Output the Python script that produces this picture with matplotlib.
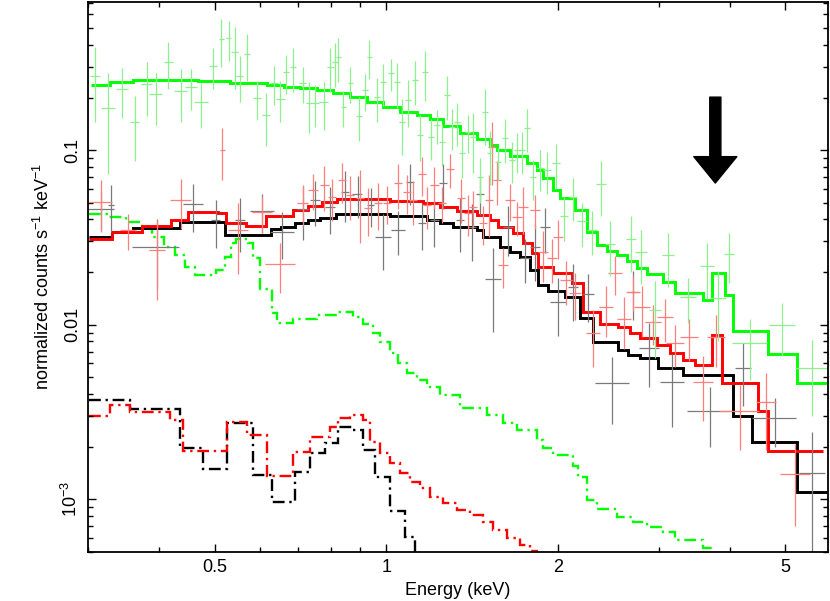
import matplotlib
matplotlib.use('Agg')
import matplotlib.pyplot as plt
from matplotlib.ticker import FixedLocator, NullFormatter

plt.rcParams['font.family'] = ['Liberation Sans', 'DejaVu Sans']
plt.rcParams['mathtext.fontset'] = 'custom'
plt.rcParams['mathtext.rm'] = 'Liberation Sans'
plt.rcParams['mathtext.default'] = 'regular'

# ---- folded models (bin edges in keV, values in counts/s/keV) ----
green_model_edges = [0.3031, 0.3285, 0.3604, 0.4667, 0.5330, 0.6187, 0.6603, 0.7070, 0.7571,
                     0.8077, 0.8650, 0.9263, 0.9880, 1.0581, 1.1331, 1.1942, 1.2584, 1.3478,
                     1.4434, 1.5212, 1.5646, 1.6490, 1.7660, 1.8387, 1.8836, 1.9611, 2.0170,
                     2.1429, 2.2491, 2.3416, 2.4380, 2.5384, 2.6428, 2.7516, 2.8646, 3.0551,
                     3.2072, 3.5924, 3.7237, 3.9237, 4.0530, 4.6666, 5.2459, 5.9443]
green_model = [0.2358, 0.2453, 0.2518, 0.2485, 0.2421, 0.2358, 0.2296, 0.2266, 0.2207, 0.2121,
               0.2012, 0.1884, 0.1764, 0.1651, 0.1587, 0.1505, 0.1372, 0.1251, 0.1156, 0.1068,
               0.1000, 0.0924, 0.0842, 0.0768, 0.0691, 0.0590, 0.0531, 0.0453, 0.0339, 0.0286,
               0.0264, 0.0250, 0.0231, 0.0211, 0.0195, 0.0175, 0.0152, 0.0138, 0.0197, 0.0148,
               0.00918, 0.00678, 0.00462]

red_model_edges = [0.3007, 0.3299, 0.3724, 0.4201, 0.4499, 0.5078, 0.5244, 0.5686, 0.6163, 0.6873,
                   0.7302, 0.7723, 0.8206, 1.0163, 1.1609, 1.2432, 1.3314, 1.4434, 1.5212, 1.5710,
                   1.6690, 1.7378, 1.8021, 1.8457, 1.9611, 2.1170, 2.2131, 2.3710, 2.5485, 2.6748,
                   2.7856, 2.9830, 3.1440, 3.3124, 3.4770, 3.7237, 3.8762, 4.4822, 4.6666, 5.8253]
red_model = [0.0309, 0.0339, 0.0367, 0.0397, 0.0441, 0.0436, 0.0382, 0.0367, 0.0418, 0.0453,
             0.0478, 0.0504, 0.0524, 0.0510, 0.0497, 0.0471, 0.0447, 0.0424, 0.0397, 0.0362,
             0.0334, 0.0293, 0.0257, 0.0214, 0.0197, 0.0173, 0.0118, 0.01007, 0.00968, 0.00894,
             0.00837, 0.00763, 0.00687, 0.00626, 0.00586, 0.00871, 0.00462, 0.00319, 0.00188]

black_model_edges = [0.3007, 0.3299, 0.3604, 0.4357, 0.5224, 0.6289, 0.6549, 0.6929, 0.7302,
                     0.7665, 0.8172, 1.0163, 1.1798, 1.2432, 1.3102, 1.4434, 1.4787, 1.5838,
                     1.6490, 1.7171, 1.7875, 1.8457, 1.9215, 2.0582, 2.1870, 2.3044, 2.5485,
                     2.6534, 2.7856, 2.9953, 3.3124, 4.0530, 4.3752, 5.2459, 5.9196]
black_model = [0.0317, 0.0339, 0.0357, 0.0387, 0.0326, 0.0353, 0.0362, 0.0382, 0.0397, 0.0407,
               0.0430, 0.0418, 0.0397, 0.0382, 0.0362, 0.0348, 0.0317, 0.0278, 0.0260, 0.0244,
               0.0205, 0.0168, 0.0156, 0.0144, 0.0109, 0.00794, 0.00714, 0.00669, 0.00643,
               0.00563, 0.00513, 0.00299, 0.00212, 0.001096]

# ---- additive components (dash-dot) ----
green_comp_edges = [0.3007, 0.3259, 0.3491, 0.3724, 0.3878, 0.4069, 0.4270, 0.4446, 0.4629, 0.5037,
                    0.5224, 0.5352, 0.5461, 0.5732, 0.5849, 0.6016, 0.6314, 0.6443, 0.6873, 0.7571,
                    0.8206, 0.8755, 0.9114, 0.9489, 0.9761, 1.0163, 1.0496, 1.0884, 1.1331, 1.1798,
                    1.2432, 1.3478, 1.5026, 1.6032, 1.6963, 1.8387, 1.8836, 1.9611, 2.1260, 2.1693,
                    2.2491, 2.3416, 2.5384, 2.7075, 2.8646, 3.0551, 3.2072, 3.5924, 3.7237, 3.9555]
green_comp = [0.0430, 0.0413, 0.0387, 0.0357, 0.0317, 0.0278, 0.0250, 0.0214, 0.0192, 0.0205,
              0.0244, 0.0293, 0.0309, 0.0293, 0.0240, 0.0160, 0.01164, 0.01020, 0.01075, 0.01133,
              0.01179, 0.01104, 0.01007, 0.00894, 0.00794, 0.00687, 0.00602, 0.00527, 0.00481,
              0.00438, 0.00394, 0.00332, 0.00303, 0.00272, 0.00248, 0.00218, 0.00196, 0.00179,
              0.001546, 0.001337, 0.000987, 0.000876, 0.000788, 0.000738, 0.000691, 0.000647,
              0.000582, 0.000524, 0.000490]

red_comp_edges = [0.3007, 0.3285, 0.3561, 0.4184, 0.4410, 0.5266, 0.5709, 0.6187, 0.6873, 0.7361,
                  0.7979, 0.8240, 0.8650, 0.9114, 0.9375, 0.9761, 1.0163, 1.0581, 1.1017, 1.1472,
                  1.1942, 1.2584, 1.3314, 1.4030, 1.4787, 1.5398, 1.6291, 1.7171, 1.7875, 1.8457]
red_comp = [0.00299, 0.003456, 0.003151, 0.002836, 0.00188, 0.002762, 0.002327, 0.001354,
            0.001859, 0.002266, 0.002586, 0.002912, 0.00303, 0.002836, 0.00212, 0.001834,
            0.001608, 0.001409, 0.001251, 0.001156, 0.001027, 0.000949, 0.000865, 0.000810,
            0.000738, 0.000664, 0.000598, 0.000545, 0.000504]

black_comp_edges = [0.3007, 0.3561, 0.4357, 0.4780, 0.5266, 0.5849, 0.6314, 0.6929, 0.7361,
                    0.7818, 0.8240, 0.8718, 0.9114, 0.9566, 1.0163, 1.0796, 1.1241, 1.1703]
black_comp = [0.003692, 0.00328, 0.00196, 0.001485, 0.002726, 0.001372, 0.000961, 0.001428,
              0.001834, 0.002094, 0.002586, 0.002485, 0.001909, 0.001337, 0.000853, 0.000606,
              0.000447]

# ---- data: energy, half bin width, rate, 1-sigma error ----
green_E = [0.309, 0.325, 0.344, 0.362, 0.380, 0.394, 0.415, 0.436, 0.455, 0.474,
           0.496, 0.514, 0.529, 0.542, 0.553, 0.569, 0.594, 0.616, 0.636, 0.652,
           0.668, 0.687, 0.713, 0.733, 0.751, 0.776, 0.798, 0.814, 0.824, 0.841,
           0.865, 0.897, 0.919, 0.934, 0.964, 0.988, 1.020, 1.045, 1.067, 1.093,
           1.124, 1.147, 1.170, 1.199, 1.228, 1.253, 1.279, 1.305, 1.331, 1.359,
           1.392, 1.420, 1.461, 1.491, 1.521, 1.571, 1.616, 1.662, 1.696, 1.731,
           1.766, 1.809, 1.861, 1.914, 1.985, 2.050, 2.126, 2.204, 2.295, 2.380,
           2.468, 2.686, 2.797, 2.959, 3.118, 3.380, 3.649, 3.815, 3.987, 4.340,
           4.938, 5.573]
green_dE = [0.006, 0.009, 0.008, 0.007, 0.009, 0.010, 0.008, 0.011, 0.011, 0.013,
            0.008, 0.006, 0.006, 0.007, 0.007, 0.007, 0.010, 0.010, 0.010, 0.011,
            0.008, 0.008, 0.011, 0.009, 0.012, 0.013, 0.010, 0.010, 0.008, 0.010,
            0.010, 0.011, 0.011, 0.008, 0.012, 0.012, 0.012, 0.013, 0.013, 0.013,
            0.014, 0.014, 0.014, 0.015, 0.015, 0.015, 0.015, 0.016, 0.016, 0.016,
            0.017, 0.017, 0.018, 0.018, 0.018, 0.019, 0.020, 0.020, 0.021, 0.021,
            0.021, 0.022, 0.030, 0.031, 0.032, 0.033, 0.034, 0.044, 0.046, 0.048,
            0.050, 0.054, 0.068, 0.072, 0.075, 0.109, 0.103, 0.123, 0.080, 0.30,
            0.26, 0.38]
green_F = [0.266, 0.174, 0.224, 0.145, 0.239, 0.209, 0.319, 0.218, 0.230, 0.188,
           0.303, 0.433, 0.438, 0.364, 0.266, 0.355, 0.199, 0.159, 0.242, 0.196,
           0.280, 0.299, 0.242, 0.186, 0.186, 0.188, 0.299, 0.319, 0.341, 0.176,
           0.242, 0.157, 0.221, 0.341, 0.201, 0.245, 0.276, 0.245, 0.145, 0.193,
           0.252, 0.122, 0.280, 0.119, 0.139, 0.111, 0.207, 0.136, 0.145, 0.096,
           0.127, 0.119, 0.070, 0.165, 0.096, 0.085, 0.117, 0.088, 0.100, 0.100,
           0.134, 0.070, 0.079, 0.077, 0.084, 0.042, 0.054, 0.039, 0.035, 0.064,
           0.029, 0.031, 0.026, 0.0121, 0.025, 0.0144, 0.0217, 0.0142, 0.0254, 0.0078,
           0.0099, 0.0056]
green_err = [0.121, 0.101, 0.072, 0.058, 0.082, 0.069, 0.095, 0.073, 0.061, 0.054,
             0.080, 0.132, 0.114, 0.141, 0.078, 0.106, 0.050, 0.053, 0.061, 0.052,
             0.070, 0.084, 0.057, 0.060, 0.051, 0.058, 0.084, 0.090, 0.096, 0.041,
             0.057, 0.045, 0.053, 0.085, 0.057, 0.067, 0.058, 0.071, 0.051, 0.058,
             0.072, 0.036, 0.088, 0.031, 0.030, 0.030, 0.059, 0.036, 0.040, 0.027,
             0.031, 0.045, 0.020, 0.058, 0.033, 0.018, 0.033, 0.023, 0.026, 0.027,
             0.037, 0.018, 0.021, 0.021, 0.024, 0.012, 0.015, 0.011, 0.010, 0.022,
             0.010, 0.011, 0.009, 0.0057, 0.0086, 0.0042, 0.0077, 0.0062, 0.0080, 0.0030,
             0.0033, 0.0026]

red_E = [0.316, 0.353, 0.397, 0.436, 0.516, 0.549, 0.606, 0.652, 0.713, 0.745,
         0.779, 0.804, 0.837, 0.865, 0.900, 0.930, 0.968, 1.004, 1.050, 1.088,
         1.115, 1.156, 1.180, 1.214, 1.253, 1.294, 1.353, 1.392, 1.420, 1.479,
         1.515, 1.533, 1.565, 1.603, 1.649, 1.696, 1.738, 1.823, 1.884, 1.953,
         2.000, 2.067, 2.143, 2.304, 2.428, 2.518, 2.612, 2.708, 2.808, 2.935,
         3.082, 3.207, 3.394, 3.592, 3.784, 4.168, 4.629, 5.204]
red_dE = [0.015, 0.011, 0.013, 0.018, 0.006, 0.022, 0.024, 0.039, 0.017, 0.015,
          0.013, 0.013, 0.014, 0.014, 0.015, 0.015, 0.016, 0.016, 0.017, 0.018,
          0.018, 0.019, 0.019, 0.020, 0.020, 0.021, 0.022, 0.022, 0.023, 0.024,
          0.024, 0.025, 0.025, 0.032, 0.033, 0.034, 0.035, 0.037, 0.038, 0.039,
          0.040, 0.050, 0.052, 0.065, 0.069, 0.071, 0.074, 0.076, 0.091, 0.095,
          0.099, 0.116, 0.123, 0.145, 0.137, 0.336, 0.187, 0.315]
red_F = [0.0504, 0.0348, 0.0267, 0.0517, 0.100, 0.0348, 0.0441, 0.0222, 0.0497, 0.0590,
         0.0630, 0.0538, 0.0673, 0.0552, 0.0531, 0.0465, 0.0497, 0.0497, 0.0647, 0.0575,
         0.0517, 0.0729, 0.0484, 0.0630, 0.0497, 0.0778, 0.0531, 0.0436, 0.0472, 0.0382,
         0.0517, 0.104, 0.0673, 0.0219, 0.0517, 0.0413, 0.0472, 0.0453, 0.0260, 0.0241,
         0.0317, 0.0180, 0.0152, 0.0089, 0.0126, 0.0197, 0.0108, 0.0154, 0.0126, 0.0103,
         0.0110, 0.0078, 0.0085, 0.0047, 0.0085, 0.0032, 0.0036, 0.00139]
red_err = [0.0167, 0.0081, 0.0128, 0.0163, 0.033, 0.0152, 0.0106, 0.0071, 0.0132, 0.0138,
           0.0182, 0.0147, 0.0173, 0.0156, 0.0237, 0.0144, 0.0148, 0.0122, 0.0190, 0.0143,
           0.0147, 0.0187, 0.0133, 0.0173, 0.0114, 0.0172, 0.0147, 0.0116, 0.0114, 0.0096,
           0.0201, 0.041, 0.0190, 0.0057, 0.0126, 0.0091, 0.0140, 0.0102, 0.0084, 0.0067,
           0.0081, 0.0050, 0.0046, 0.0032, 0.0041, 0.0050, 0.0036, 0.0035, 0.0041, 0.0027,
           0.0031, 0.0021, 0.0023, 0.0019, 0.0028, 0.0013, 0.0017, 0.00069]

black_E = [0.316, 0.329, 0.396, 0.459, 0.502, 0.555, 0.606, 0.657, 0.713, 0.751,
           0.798, 0.847, 0.890, 0.938, 0.988, 1.050, 1.102, 1.156, 1.214, 1.258,
           1.348, 1.415, 1.461, 1.540, 1.636, 1.752, 1.823, 1.899, 2.000, 2.126,
           2.258, 2.488, 2.708, 2.888, 3.169, 3.694, 4.219, 4.800, 5.573]
black_dE = [0.017, 0.004, 0.037, 0.019, 0.010, 0.011, 0.029, 0.032, 0.017, 0.015,
            0.016, 0.014, 0.018, 0.015, 0.032, 0.030, 0.018, 0.019, 0.020, 0.020,
            0.022, 0.023, 0.024, 0.050, 0.033, 0.035, 0.037, 0.038, 0.065, 0.043,
            0.055, 0.171, 0.066, 0.117, 0.153, 0.328, 0.136, 0.426, 0.292]
black_F = [0.0459, 0.0485, 0.028, 0.0491, 0.0397, 0.0397, 0.0447, 0.0339, 0.0459, 0.0517,
           0.0472, 0.0575, 0.0560, 0.0484, 0.0317, 0.0348, 0.0656, 0.0382, 0.0397, 0.0647,
           0.0397, 0.0362, 0.0560, 0.0182, 0.0362, 0.0241, 0.0278, 0.0362, 0.0135, 0.0164,
           0.0150, 0.0046, 0.0154, 0.0073, 0.0047, 0.0032, 0.0056, 0.0029, 0.00141]
black_err = [0.0113, 0.0146, 0.012, 0.0150, 0.0121, 0.0137, 0.0113, 0.0103, 0.0155, 0.0151,
             0.0140, 0.0188, 0.0152, 0.0121, 0.0111, 0.0098, 0.0173, 0.0115, 0.0120, 0.0185,
             0.0137, 0.0130, 0.0138, 0.0091, 0.0115, 0.0069, 0.0100, 0.0104, 0.0049, 0.0059,
             0.0046, 0.0019, 0.0048, 0.0029, 0.0021, 0.0012, 0.0022, 0.0009, 0.0010]

# arrow marking the feature (keV, rate at tail and tip)
arrow_E = 3.77
arrow_tail = 0.201
arrow_tip = 0.0647

xtick_vals = [0.5, 1, 2, 5]
xtick_labels = ['0.5', '1', '2', '5']
ytick_vals = [1e-3, 1e-2, 0.1]
ytick_labels = [r'10$^{-3}$', '0.01', '0.1']


def main():
    fig = plt.figure(figsize=(8.3, 6.01), dpi=100)
    ax = fig.add_axes([0.106, 0.0815, 0.8916, 0.916])
    ax.set_xscale('log')
    ax.set_yscale('log')

    # data crosses
    for E, dE, F, err, col in [(black_E, black_dE, black_F, black_err, '#7a7a7a'),
                               (red_E, red_dE, red_F, red_err, '#ff7f7f'),
                               (green_E, green_dE, green_F, green_err, '#8cf08c')]:
        ax.errorbar(E, F, xerr=dE, yerr=err, fmt='none', ecolor=col,
                    elinewidth=0.9, capsize=0)

    # components
    dd = (0, (5, 2, 1, 2))
    ax.stairs(black_comp, black_comp_edges, baseline=None, color='black', lw=1.7, linestyle=dd)
    ax.stairs(red_comp, red_comp_edges, baseline=None, color='#ff0000', lw=1.7, linestyle=dd)
    ax.stairs(green_comp, green_comp_edges, baseline=None, color='#00ff00', lw=1.7, linestyle=dd)

    # folded models
    ax.stairs(black_model, black_model_edges, baseline=None, color='black', lw=2.1)
    ax.stairs(red_model, red_model_edges, baseline=None, color='#ff0000', lw=2.1)
    ax.stairs(green_model, green_model_edges, baseline=None, color='#00ff00', lw=2.1)

    ax.annotate('', xy=(arrow_E, arrow_tip), xytext=(arrow_E, arrow_tail),
                arrowprops=dict(facecolor='black', edgecolor='black', width=8,
                                headwidth=31, headlength=19, shrink=0))

    ax.set_xlim(0.3, 5.94)
    ax.set_ylim(4.97e-4, 0.71)

    ax.xaxis.set_major_locator(FixedLocator(xtick_vals))
    ax.set_xticklabels(xtick_labels)
    ax.xaxis.set_minor_locator(FixedLocator([0.3, 0.4, 0.6, 0.7, 0.8, 0.9, 3, 4]))
    ax.xaxis.set_minor_formatter(NullFormatter())
    ax.yaxis.set_major_locator(FixedLocator(ytick_vals))
    ax.set_yticklabels(ytick_labels)
    minor_y = [m * 10.0 ** p for p in (-4, -3, -2, -1) for m in range(2, 10)]
    ax.yaxis.set_minor_locator(FixedLocator(minor_y))
    ax.yaxis.set_minor_formatter(NullFormatter())
    for lab in ax.get_yticklabels():
        lab.set_rotation(90)
        lab.set_va('center')

    ax.tick_params(which='both', direction='in', top=True, right=True,
                   labelsize=13, width=1.0)
    ax.tick_params(which='major', length=6, pad=5)
    ax.tick_params(which='minor', length=3.5)
    for s in ax.spines.values():
        s.set_linewidth(1.3)

    ax.set_xlabel('Energy (keV)', fontsize=13, labelpad=4)
    ax.set_ylabel(r'normalized counts s$^{-1}$ keV$^{-1}$', fontsize=13, labelpad=6)

    fig.savefig('out.png', dpi=100)


if __name__ == "__main__":
    main()
